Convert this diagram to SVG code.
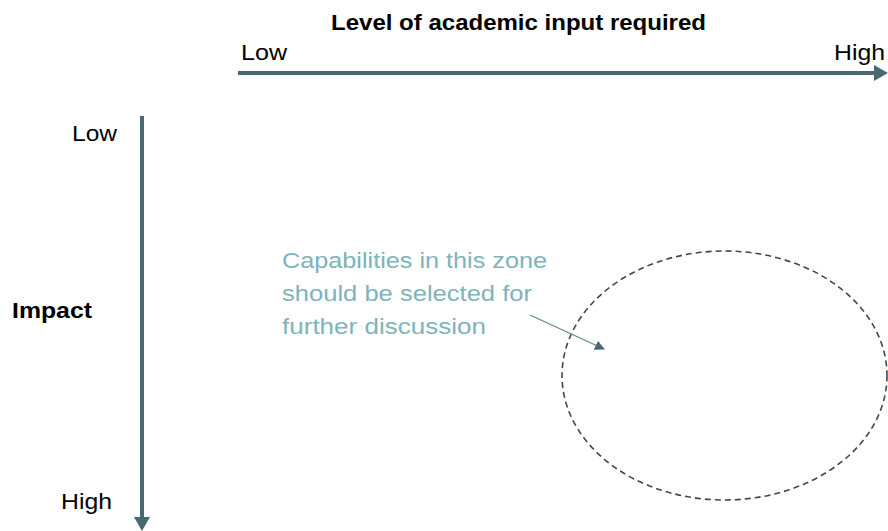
<svg xmlns="http://www.w3.org/2000/svg" width="888" height="531" viewBox="0 0 888 531">
  <style>
    text { font-family: "Liberation Sans", Arial, sans-serif; fill: #000; }
    .bold { font-weight: bold; }
    .axis { stroke: #456a70; stroke-width: 4; fill: none; }
    .note { fill: #7eb3bb; font-size: 22px; }
    .zone { fill: none; stroke: #3a4a4f; stroke-width: 1.6; stroke-dasharray: 6 4; }
    .pointer { stroke: #5f8a90; stroke-width: 1.3; fill: none; }
  </style>
  <defs>
    <marker id="axisHead" markerWidth="4" markerHeight="4" refX="1.5" refY="2" orient="auto" markerUnits="strokeWidth">
      <path d="M0,0 L3.5,2 L0,4 Z" fill="#456a70"/>
    </marker>
    <marker id="ptrHead" viewBox="0 0 10 10" markerWidth="10" markerHeight="10" refX="9" refY="5" orient="auto" markerUnits="userSpaceOnUse">
      <path d="M0,0 L10,5 L0,10 Z" fill="#456a70"/>
    </marker>
  </defs>

  <g id="x-axis">
    <text class="bold" x="331" y="30" font-size="22" textLength="375" lengthAdjust="spacingAndGlyphs">Level of academic input required</text>
    <text x="241" y="60" font-size="22" textLength="46" lengthAdjust="spacingAndGlyphs">Low</text>
    <text x="834" y="60" font-size="22" textLength="51" lengthAdjust="spacingAndGlyphs">High</text>
  </g>

  <g id="y-axis">
    <text x="72" y="141" font-size="22" textLength="45" lengthAdjust="spacingAndGlyphs">Low</text>
    <text class="bold" x="12" y="318" font-size="22" textLength="80" lengthAdjust="spacingAndGlyphs">Impact</text>
    <text x="61" y="509" font-size="22" textLength="51" lengthAdjust="spacingAndGlyphs">High</text>
  </g>

  <g id="zone">
    <ellipse class="zone" cx="724.5" cy="375.5" rx="162.5" ry="124.5"/>
  </g>

  <g id="note">
    <text class="note" x="282" y="268" textLength="265" lengthAdjust="spacingAndGlyphs">Capabilities in this zone</text>
    <text class="note" x="282" y="301" textLength="250" lengthAdjust="spacingAndGlyphs">should be selected for</text>
    <text class="note" x="282" y="334" textLength="204" lengthAdjust="spacingAndGlyphs">further discussion</text>
  </g>

  <g id="connectors">
    <line class="axis" x1="238" y1="73" x2="880" y2="73" marker-end="url(#axisHead)"/>
    <line class="axis" x1="142" y1="116" x2="142" y2="523" marker-end="url(#axisHead)"/>
    <line class="pointer" x1="530" y1="315" x2="604" y2="349" marker-end="url(#ptrHead)"/>
  </g>
</svg>
